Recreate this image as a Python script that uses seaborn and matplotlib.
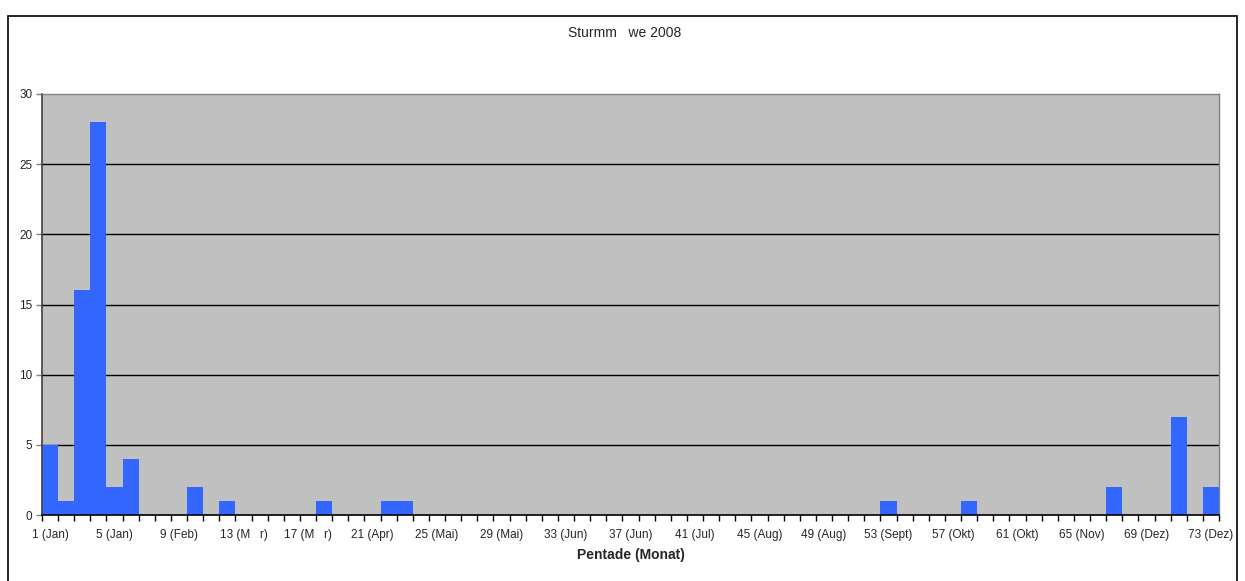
import matplotlib
matplotlib.use("Agg")
import matplotlib.pyplot as plt
import matplotlib.patches as mpatches
import seaborn as sns
import pandas as pd

# Daten: Anzahl pro Pentade (1..73)
pentaden = list(range(1, 74))
werte_nicht_null = {1: 5, 2: 1, 3: 16, 4: 28, 5: 2, 6: 4, 10: 2, 12: 1, 18: 1,
                    22: 1, 23: 1, 53: 1, 58: 1, 67: 2, 71: 7, 73: 2}
anzahl = [werte_nicht_null.get(p, 0) for p in pentaden]
tick_labels = ["1 (Jan)", "5 (Jan)", "9 (Feb)", "13 (M   r)", "17 (M   r)", "21 (Apr)",
               "25 (Mai)", "29 (Mai)", "33 (Jun)", "37 (Jun)", "41 (Jul)", "45 (Aug)",
               "49 (Aug)", "53 (Sept)", "57 (Okt)", "61 (Okt)", "65 (Nov)", "69 (Dez)",
               "73 (Dez)"]

df = pd.DataFrame({"Pentade": pentaden, "Anzahl": anzahl})

sns.set_style("white")
plt.rcParams["font.family"] = ["Liberation Sans", "DejaVu Sans"]

fig = plt.figure(figsize=(12.45, 5.81), dpi=100)
ax = fig.add_axes([42 / 1245, 1 - 515 / 581, (1219 - 42) / 1245, (515 - 94) / 581])

ax.set_facecolor("#C0C0C0")
for y in [5, 10, 15, 20, 25]:
    ax.axhline(y, color="black", linewidth=1, zorder=1)

sns.barplot(data=df, x="Pentade", y="Anzahl", color="#3366FF", width=1.0,
            saturation=1, edgecolor="#3366FF", linewidth=0, ax=ax, zorder=2)

ax.set_xlim(-0.5, 72.5)
ax.set_ylim(0, 30)
ax.set_yticks(range(0, 31, 5))
ax.tick_params(axis="y", labelsize=8.5, length=4, width=1, color="#808080", direction="out", left=True, pad=3)

ax.set_xticks(range(0, 73, 4))
ax.set_xticklabels(tick_labels, fontsize=8.5)
ax.set_xticks([i - 0.5 for i in range(74)], minor=True)
ax.tick_params(axis="x", which="major", length=0, pad=10)
ax.tick_params(axis="x", which="minor", length=4, width=1, color="black", direction="out", bottom=True)

for side in ["top", "right"]:
    ax.spines[side].set_color("#808080")
    ax.spines[side].set_linewidth(1)
ax.spines["left"].set_color("#404040")
ax.spines["bottom"].set_color("black")
for side in ["left", "bottom"]:
    ax.spines[side].set_linewidth(1.2)

ax.set_xlabel("Pentade (Monat)", fontsize=10, fontweight="bold", labelpad=5)
ax.set_ylabel("")

fig.text(625 / 1245, 1 - 33 / 581, "Sturmm   we 2008", ha="center", va="center", fontsize=10)

# Rahmen des Diagrammbereichs
rahmen = mpatches.Rectangle((8 / 1245, -0.05), (1237 - 8) / 1245, 1.05 - 16 / 581,
                            transform=fig.transFigure, fill=False, edgecolor="black",
                            linewidth=1.2, clip_on=False)
fig.patches.append(rahmen)

fig.savefig("out.png", dpi=100)
